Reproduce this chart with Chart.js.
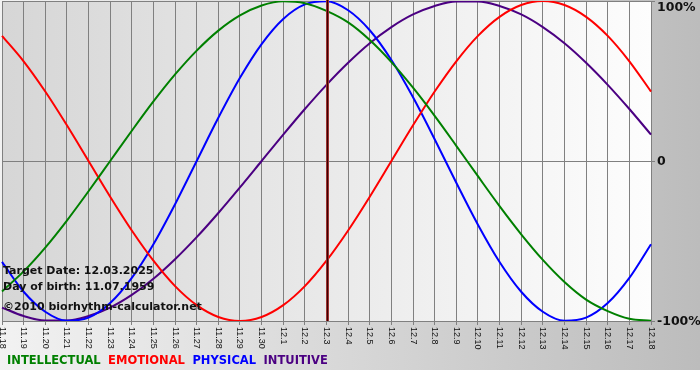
<!DOCTYPE html>
<html>
<head>
<meta charset="utf-8">
<script src="https://cdn.jsdelivr.net/npm/chart.js@4.4.1/dist/chart.umd.min.js"></script>
<style>
  html, body { margin: 0; padding: 0; background: #ffffff; }
  #wrap { width: 700px; height: 380px; position: relative; }
</style>
</head>
<body>
<div id="wrap"><canvas id="c" width="700" height="380"></canvas></div>
<script>
const days = ['11.18','11.19','11.20','11.21','11.22','11.23','11.24','11.25','11.26','11.27','11.28','11.29','11.30',
  '12.1','12.2','12.3','12.4','12.5','12.6','12.7','12.8','12.9','12.10','12.11','12.12','12.13','12.14','12.15','12.16','12.17','12.18'];

const intellectual = [-0.815,-0.690,-0.541,-0.372,-0.189,0.000,0.189,0.372,0.541,0.690,0.815,0.910,0.972,0.998,0.986,0.938,
  0.866,0.756,0.618,0.458,0.282,0.095,-0.095,-0.282,-0.458,-0.618,-0.756,-0.866,-0.938,-0.986,-0.998];
const emotional = [0.782,0.623,0.434,0.223,0.000,-0.223,-0.434,-0.623,-0.782,-0.901,-0.975,-1.000,-0.975,-0.901,-0.782,-0.623,
  -0.434,-0.223,0.000,0.223,0.434,0.623,0.782,0.901,0.975,1.000,0.975,0.901,0.782,0.623,0.434];
const physical = [-0.631,-0.817,-0.942,-0.998,-0.979,-0.888,-0.731,-0.520,-0.270,0.000,0.270,0.520,0.731,0.888,0.979,0.998,
  0.942,0.817,0.631,0.398,0.136,-0.136,-0.398,-0.631,-0.817,-0.942,-0.998,-0.979,-0.888,-0.731,-0.520];
const intuitive = [-0.916,-0.969,-0.997,-0.997,-0.969,-0.916,-0.837,-0.736,-0.614,-0.476,-0.325,-0.165,0.000,0.165,0.325,0.476,
  0.614,0.736,0.837,0.916,0.969,0.997,0.997,0.969,0.916,0.837,0.736,0.614,0.476,0.325,0.165];

const targetDay = '12.3';
const yTickValues = [1, 0, -1];
const yTickLabels = ['100%', '0', '-100%'];
const infoLines = ['Target Date: 12.03.2025', 'Day of birth: 11.07.1959', '\u00A92010 biorhythm-calculator.net'];
const seriesNames = ['INTELLECTUAL', 'EMOTIONAL', 'PHYSICAL', 'INTUITIVE'];
const seriesColors = ['#008000', '#ff0000', '#0000ff', '#4b0082'];

const bgPlugin = {
  id: 'bg',
  beforeDraw(chart) {
    const ctx = chart.ctx, a = chart.chartArea;
    ctx.save();
    ctx.fillStyle = '#ffffff';
    ctx.fillRect(0, 0, chart.width, chart.height);
    const g = ctx.createLinearGradient(0, 0, chart.width, 0);
    g.addColorStop(0, '#f2f2f2');
    g.addColorStop(1, '#bcbcbc');
    ctx.fillStyle = g;
    ctx.fillRect(0, 0, chart.width, 370);
    const g2 = ctx.createLinearGradient(a.left, 0, a.right, 0);
    g2.addColorStop(0, '#d6d6d6');
    g2.addColorStop(1, '#fdfdfd');
    ctx.fillStyle = g2;
    ctx.fillRect(a.left, a.top, a.right - a.left, a.bottom - a.top);
    ctx.restore();
  }
};

const overlayPlugin = {
  id: 'overlay',
  afterDatasetsDraw(chart) {
    const ctx = chart.ctx, a = chart.chartArea;
    const xs = chart.scales.x, ys = chart.scales.y;
    ctx.save();
    // target date line
    const tx = Math.round(xs.getPixelForValue(days.indexOf(targetDay))) + 0.5;
    ctx.strokeStyle = '#9a3030';
    ctx.lineWidth = 3;
    ctx.beginPath(); ctx.moveTo(tx, 0); ctx.lineTo(tx, a.bottom); ctx.stroke();
    ctx.strokeStyle = '#3c0000';
    ctx.lineWidth = 1;
    ctx.beginPath(); ctx.moveTo(tx, 0); ctx.lineTo(tx, a.bottom); ctx.stroke();

    // info text
    ctx.fillStyle = '#111111';
    ctx.font = 'bold 11px "DejaVu Sans"';
    ctx.textAlign = 'left';
    ctx.textBaseline = 'middle';
    ctx.fillText(infoLines[0], 3, 271);
    ctx.fillText(infoLines[1], 3, 287);
    ctx.fillText(infoLines[2], 3, 307);

    // x tick labels, rotated clockwise
    ctx.font = '9px "Liberation Sans"';
    ctx.fillStyle = '#111111';
    days.forEach((d, i) => {
      const x = xs.getPixelForValue(i);
      ctx.save();
      ctx.translate(x, a.bottom + 6);
      ctx.rotate(Math.PI / 2);
      ctx.textAlign = 'left';
      ctx.textBaseline = 'middle';
      ctx.fillText(d, 0, 0);
      ctx.restore();
    });

    // y tick labels
    ctx.font = 'bold 12.5px "DejaVu Sans"';
    ctx.fillStyle = '#111111';
    yTickValues.forEach((v, i) => {
      let y = ys.getPixelForValue(v);
      if (y < 7) y = 7;
      ctx.fillText(yTickLabels[i], a.right + 6, y + 1);
    });

    // legend
    ctx.font = 'bold 11.5px "DejaVu Sans"';
    let lx = 7;
    seriesNames.forEach((n, i) => {
      ctx.fillStyle = seriesColors[i];
      ctx.fillText(n, lx, 361);
      lx += ctx.measureText(n).width + 7.5;
    });
    ctx.restore();
  }
};

function ds(label, data, color) {
  return {
    label, data,
    borderColor: color,
    backgroundColor: color,
    borderWidth: 2,
    pointRadius: 0,
    cubicInterpolationMode: 'monotone',
    fill: false
  };
}

new Chart(document.getElementById('c'), {
  type: 'line',
  data: {
    labels: days,
    datasets: [
      ds(seriesNames[0], intellectual, seriesColors[0]),
      ds(seriesNames[1], emotional, seriesColors[1]),
      ds(seriesNames[2], physical, seriesColors[2]),
      ds(seriesNames[3], intuitive, seriesColors[3])
    ]
  },
  options: {
    responsive: false,
    animation: false,
    layout: { padding: { left: 2, top: 1, right: 0, bottom: 0 } },
    plugins: { legend: { display: false }, tooltip: { enabled: false } },
    scales: {
      x: {
        type: 'category',
        offset: false,
        grid: { color: '#808080', lineWidth: 1, tickLength: 4, drawTicks: true },
        border: { display: false },
        ticks: { display: false, autoSkip: false },
        afterFit(s) { s.height = 59; }
      },
      y: {
        position: 'right',
        min: -1, max: 1,
        ticks: { display: false, stepSize: 1 },
        grid: { color: '#808080', lineWidth: 1, tickLength: 4 },
        border: { display: false },
        afterFit(s) { s.width = 49; }
      }
    }
  },
  plugins: [bgPlugin, overlayPlugin]
});
</script>
</body>
</html>
